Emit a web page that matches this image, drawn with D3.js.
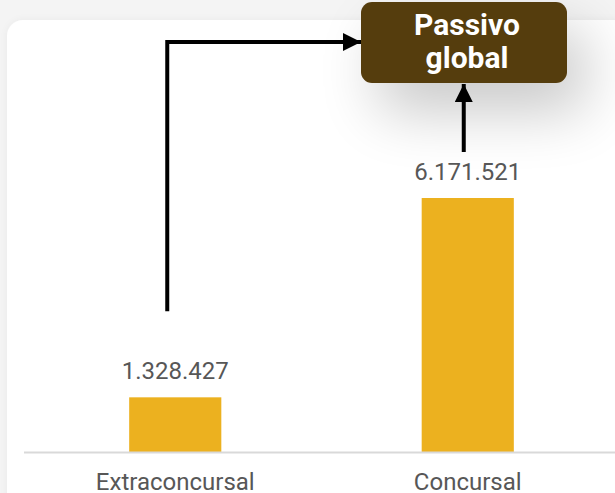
<!DOCTYPE html>
<html>
<head>
<meta charset="utf-8">
<script src="https://cdn.jsdelivr.net/npm/d3@7"></script>
<style>
  body { margin: 0; background: #f4f4f4; }
  svg { display: block; font-family: Roboto, sans-serif; }
</style>
</head>
<body>
<div id="chart"></div>
<script>
// data
categories = ["Extraconcursal", "Concursal"];
values = [1328427, 6171521];
valueLabels = ["1.328.427", "6.171.521"];
boxLines = ["Passivo", "global"];

width = 615;
height = 493;
baseY = 452;

fmt = (v, i) => valueLabels[i];

svg = d3.select("#chart").append("svg")
    .attr("width", width)
    .attr("height", height);

defs = svg.append("defs");
var f = defs.append("filter").attr("id", "shadow")
    .attr("x", "-60%").attr("y", "-60%").attr("width", "240%").attr("height", "300%");
f.append("feGaussianBlur").attr("in", "SourceAlpha").attr("stdDeviation", 30).attr("result", "b");
f.append("feOffset").attr("in", "b").attr("dx", 18).attr("dy", 28).attr("result", "o");
f.append("feComponentTransfer").attr("in", "o").attr("result", "s")
    .append("feFuncA").attr("type", "linear").attr("slope", 0.22);
var m = f.append("feMerge");
m.append("feMergeNode").attr("in", "s");
m.append("feMergeNode").attr("in", "SourceGraphic");

var cf = defs.append("filter").attr("id", "cardshadow")
    .attr("x", "-5%").attr("y", "-5%").attr("width", "110%").attr("height", "110%");
cf.append("feGaussianBlur").attr("in", "SourceAlpha").attr("stdDeviation", 4).attr("result", "b");
cf.append("feComponentTransfer").attr("in", "b").attr("result", "s")
    .append("feFuncA").attr("type", "linear").attr("slope", 0.05);
var cm = cf.append("feMerge");
cm.append("feMergeNode").attr("in", "s");
cm.append("feMergeNode").attr("in", "SourceGraphic");

// card
svg.append("rect")
    .attr("x", 7).attr("y", 20)
    .attr("width", 640).attr("height", 520)
    .attr("rx", 16)
    .attr("fill", "#fff")
    .attr("filter", "url(#cardshadow)");

// scales
xScale = d3.scaleBand().domain(categories).range([29, 614]).paddingInner(0.685).paddingOuter(0.3425);
yScale = d3.scaleLinear().domain([0, 6171521]).range([baseY, 198]);

// bars
svg.selectAll(".bar")
    .data(values).enter()
    .append("rect")
    .attr("class", "bar")
    .attr("x", (d, i) => xScale(categories[i]))
    .attr("y", d => yScale(d))
    .attr("width", xScale.bandwidth())
    .attr("height", d => baseY - yScale(d))
    .attr("fill", "#ecb11f");

// baseline
svg.append("line")
    .attr("x1", 24).attr("x2", 615)
    .attr("y1", baseY + 0.5).attr("y2", baseY + 0.5)
    .attr("stroke", "#d9d9d9").attr("stroke-width", 2);

// value labels
svg.selectAll(".val")
    .data(values).enter()
    .append("text")
    .attr("class", "val")
    .attr("x", (d, i) => xScale(categories[i]) + xScale.bandwidth() / 2)
    .attr("y", d => yScale(d) - 18)
    .attr("text-anchor", "middle")
    .attr("fill", "#575757")
    .style("font-size", "24px")
    .text(fmt);

// category labels
svg.selectAll(".cat")
    .data(categories).enter()
    .append("text")
    .attr("class", "cat")
    .attr("x", d => xScale(d) + xScale.bandwidth() / 2)
    .attr("y", 490)
    .attr("text-anchor", "middle")
    .attr("fill", "#575757")
    .style("font-size", "24px")
    .text(d => d);

// arrows
defs.append("marker").attr("id", "arrow")
    .attr("viewBox", "0 0 10 10").attr("refX", 10).attr("refY", 5)
    .attr("markerWidth", 4.5).attr("markerHeight", 4.5)
    .attr("markerUnits", "strokeWidth")
    .attr("orient", "auto")
    .append("path").attr("d", "M0,0 L10,5 L0,10 Z").attr("fill", "#000");

box = {x: 361, y: 2, w: 206, h: 81};
x1 = xScale(categories[0]) + xScale.bandwidth() / 2 - 8;
x2 = xScale(categories[1]) + xScale.bandwidth() / 2 - 4;

svg.append("path")
    .attr("d", `M${x1},${yScale(values[0]) - 86} V42 H${box.x}`)
    .attr("fill", "none").attr("stroke", "#000").attr("stroke-width", 4)
    .attr("marker-end", "url(#arrow)");

svg.append("path")
    .attr("d", `M${x2},${yScale(values[1]) - 46} V${box.y + box.h + 1}`)
    .attr("fill", "none").attr("stroke", "#000").attr("stroke-width", 4)
    .attr("marker-end", "url(#arrow)");

// box
svg.append("rect")
    .attr("x", box.x).attr("y", box.y)
    .attr("width", box.w).attr("height", box.h)
    .attr("rx", 11)
    .attr("fill", "#553c0b")
    .attr("filter", "url(#shadow)");

svg.selectAll(".boxtxt")
    .data(boxLines).enter()
    .append("text")
    .attr("x", box.x + box.w / 2 + 3)
    .attr("y", (d, i) => 35 + i * 33)
    .attr("text-anchor", "middle")
    .attr("fill", "#fff")
    .style("font-size", "30px")
    .style("font-weight", "bold")
    .text(d => d);
</script>
</body>
</html>
